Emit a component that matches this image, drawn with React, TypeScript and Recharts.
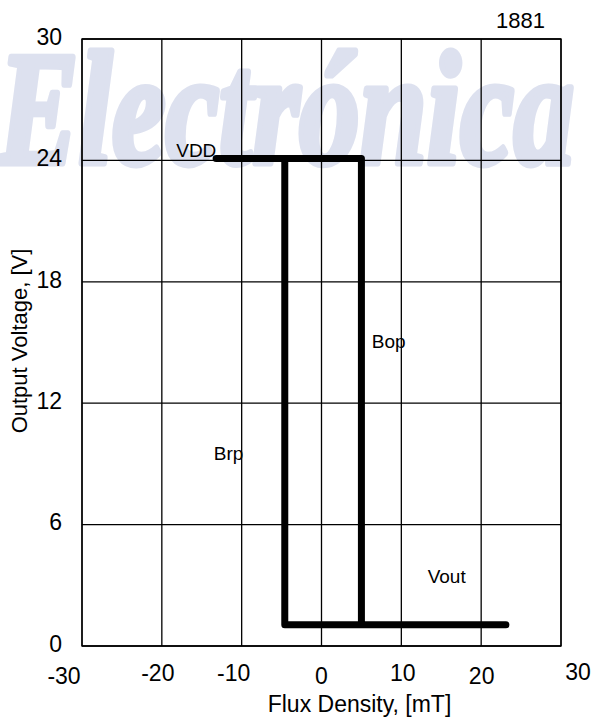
import React from 'react';
import {
  LineChart,
  Line,
  XAxis,
  YAxis,
  CartesianGrid,
  ReferenceArea,
  ReferenceDot,
} from 'recharts';

// Axis ticks
const fluxTicks = [-30, -20, -10, 0, 10, 20, 30];
const voltTicks = [0, 6, 12, 18, 24, 30];

// Hysteresis loop, traced in order: VDD level -> Bop -> low level -> back to Brp -> VDD
const loopFlux = [-13.2, 5, 5, 23.1, -4.6, -4.6];
const loopVolt = [24.1, 24.1, 1.05, 1.05, 1.05, 24.1];

// Curve annotations
const noteText = ['VDD', 'Bop', 'Brp', 'Vout'];
const noteFlux = [-18.2, 6.3, -13.5, 13.3];
const noteVolt = [24.18, 14.73, 9.19, 3.1];

const partNumber = '1881';
const watermark = 'Electrónica';

const loopData = loopFlux.map((b, i) => ({ b, v: loopVolt[i] }));

const W = 592;
const H = 717;
const FONT = '"Liberation Sans", Arial, sans-serif';
const TICK_SIZE = 23;

// small per-label nudges for the flux tick labels
const xTickDx: Record<string, number> = {
  '-30': -18, '-20': -4, '-10': -8, '0': 0, '10': 1.5, '20': 0.5, '30': 17,
};
const xTickDy: Record<string, number> = {
  '-30': 2, '-20': -1, '-10': -1, '0': 2, '10': -1, '20': 2, '30': -2,
};

const FluxTick = (props: any) => {
  const { x, y, payload } = props;
  const key = String(payload.value);
  const cy = y + 20 + (xTickDy[key] ?? 0);
  return (
    <text
      x={x + (xTickDx[key] ?? 0)}
      y={cy + 0.358 * TICK_SIZE}
      textAnchor="middle"
      fontFamily={FONT}
      fontSize={TICK_SIZE}
      fill="#000"
    >
      {payload.value}
    </text>
  );
};

const VoltTick = (props: any) => {
  const { y, payload } = props;
  return (
    <text
      x={62}
      y={y - 2.5 + 0.358 * TICK_SIZE}
      textAnchor="end"
      fontFamily={FONT}
      fontSize={TICK_SIZE}
      fill="#000"
    >
      {payload.value}
    </text>
  );
};

const FluxTitle = (props: any) => {
  const vb = props.viewBox || {};
  const cx = (vb.x ?? 82) + (vb.width ?? 479) / 2 + 38;
  return (
    <text x={cx} y={712} textAnchor="middle" fontFamily={FONT} fontSize={23} fill="#000">
      Flux Density, [mT]
    </text>
  );
};

const VoltTitle = () => (
  <text
    x={26.5}
    y={341}
    transform="rotate(-90, 26.5, 341)"
    textAnchor="middle"
    fontFamily={FONT}
    fontSize={22}
    fill="#000"
  >
    Output Voltage, [V]
  </text>
);

export default function App() {
  return (
    <div style={{ position: 'absolute', left: 0, top: 0, width: W, height: H, background: '#fff' }}>
      <svg
        width={W}
        height={H}
        style={{ position: 'absolute', left: 0, top: 0 }}
      >
        <text
          x={-2}
          y={163}
          fontFamily='"Liberation Serif", "Times New Roman", serif'
          fontStyle="italic"
          fontWeight="bold"
          fontSize={160}
          textLength={576}
          lengthAdjust="spacingAndGlyphs"
          fill="#dde1ef"
          stroke="#dde1ef"
          strokeWidth={7}
          strokeLinejoin="round"
        >
          {watermark}
        </text>
        <text x={545} y={28} textAnchor="end" fontFamily={FONT} fontSize={22} fill="#000">
          {partNumber}
        </text>
      </svg>
      <div style={{ position: 'relative' }}>
        <LineChart
          width={W}
          height={H}
          data={loopData}
          margin={{ top: 39, right: 31, bottom: 0, left: 0 }}
        >
          <CartesianGrid
            stroke="#000"
            strokeWidth={1.3}
            horizontalValues={voltTicks}
            verticalValues={fluxTicks}
            fill="none"
          />
          <XAxis
            dataKey="b"
            type="number"
            domain={[-30, 30]}
            ticks={fluxTicks}
            allowDataOverflow
            axisLine={false}
            tickLine={false}
            height={71}
            tick={<FluxTick />}
            interval={0}
            label={{ content: <FluxTitle /> } as any}
          />
          <YAxis
            type="number"
            domain={[0, 30]}
            ticks={voltTicks}
            allowDataOverflow
            axisLine={false}
            tickLine={false}
            width={82}
            tick={<VoltTick />}
            interval={0}
            label={{ content: <VoltTitle /> } as any}
          />
          <ReferenceArea
            x1={-30}
            x2={30}
            y1={0}
            y2={30}
            fill="none"
            fillOpacity={0}
            stroke="#000"
            strokeWidth={1.3}
          />
          <Line
            dataKey="v"
            type="linear"
            stroke="#000"
            strokeWidth={7}
            strokeLinejoin="round"
            strokeLinecap="round"
            dot={false}
            activeDot={false}
            isAnimationActive={false}
          />
          {noteText.map((t, i) => (
            <ReferenceDot
              key={t}
              x={noteFlux[i]}
              y={noteVolt[i]}
              r={0}
              ifOverflow="visible"
              shape={(p: any) => (
                <text x={p.cx} y={p.cy} fontFamily={FONT} fontSize={19} fill="#000">
                  {t}
                </text>
              )}
            />
          ))}
        </LineChart>
      </div>
    </div>
  );
}
